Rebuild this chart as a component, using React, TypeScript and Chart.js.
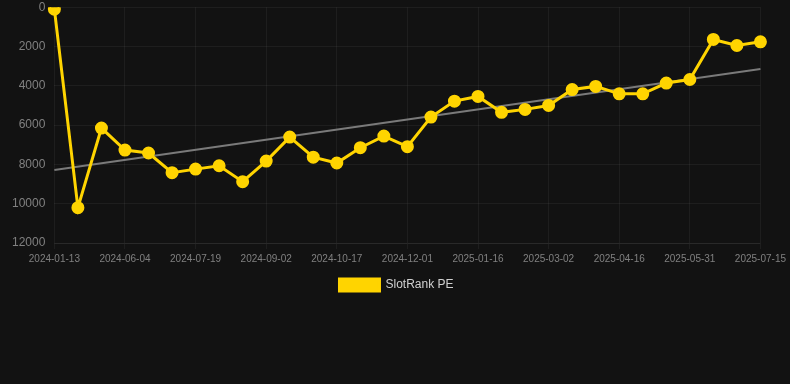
import React, { useEffect, useRef } from "react";
import { Chart, registerables } from "chart.js";

Chart.register(...registerables);

const dates: string[] = [
  "2024-01-13", "2024-05-05", "2024-05-20", "2024-06-04", "2024-06-19", "2024-07-04",
  "2024-07-19", "2024-08-03", "2024-08-18", "2024-09-02", "2024-09-17", "2024-10-02",
  "2024-10-17", "2024-11-01", "2024-11-16", "2024-12-01", "2024-12-16", "2024-12-31",
  "2025-01-16", "2025-01-31", "2025-02-15", "2025-03-02", "2025-03-17", "2025-04-01",
  "2025-04-16", "2025-05-01", "2025-05-16", "2025-05-31", "2025-06-15", "2025-06-30",
  "2025-07-15",
];

const slotRankPE: number[] = [
  100, 10200, 6150, 7270, 7420, 8420, 8240, 8070, 8880, 7830, 6610,
  7630, 7930, 7150, 6560, 7100, 5590, 4780, 4540, 5350, 5200,
  5000, 4190, 4030, 4410, 4410, 3860, 3680, 1640, 1950, 1760,
];

const trendStart = 8290;
const trendEnd = 3150;

const yTicks: number[] = [0, 2000, 4000, 6000, 8000, 10000, 12000];

export default function App() {
  const ref = useRef<HTMLCanvasElement | null>(null);

  useEffect(() => {
    if (!ref.current) return;
    Chart.defaults.font.family = 'Arial, "Liberation Sans", Helvetica, sans-serif';
    const trend: (number | null)[] = dates.map((_, i) =>
      i === 0 ? trendStart : i === dates.length - 1 ? trendEnd : null
    );
    const chart = new Chart(ref.current, {
      type: "line",
      data: {
        labels: dates,
        datasets: [
          {
            label: "SlotRank PE",
            data: slotRankPE,
            borderColor: "#ffd400",
            backgroundColor: "#ffd400",
            borderWidth: 3,
            pointRadius: 5,
            pointHoverRadius: 5,
            pointBackgroundColor: "#ffd400",
            pointBorderColor: "#ffd400",
            tension: 0,
          },
          {
            label: "trend",
            data: trend,
            borderColor: "#7a7a7a",
            backgroundColor: "#7a7a7a",
            borderWidth: 2,
            pointRadius: 0,
            spanGaps: true,
            tension: 0,
          },
        ],
      },
      options: {
        animation: false,
        responsive: false,
        maintainAspectRatio: false,
        layout: { padding: { left: 3, right: 0, top: 0, bottom: 1 } },
        plugins: {
          legend: {
            position: "bottom",
            labels: {
              color: "#d0d0d0",
              font: { size: 12 },
              boxWidth: 40,
              filter: (item) => item.text === "SlotRank PE",
            },
          },
          tooltip: { enabled: false },
        },
        scales: {
          x: {
            grid: { color: "rgba(255,255,255,0.05)", tickLength: 6 },
            border: { color: "rgba(255,255,255,0.05)" },
            ticks: {
              color: "#808080",
              font: { size: 10 },
              padding: 4,
              autoSkip: false,
              maxRotation: 0,
              callback: (_v, i) => (i % 3 === 0 ? dates[i] : null),
            },
          },
          y: {
            reverse: true,
            min: 0,
            max: 12000,
            afterBuildTicks: (axis) => {
              axis.ticks = yTicks.map((v) => ({ value: v }));
            },
            grid: { color: "rgba(255,255,255,0.05)", drawTicks: false },
            border: { display: false },
            ticks: {
              color: "#808080",
              font: { size: 12 },
              padding: 9,
              callback: (v) => String(v),
            },
          },
        },
      },
    });
    return () => chart.destroy();
  }, []);

  return (
    <div style={{ position: "fixed", left: 0, top: 0, width: 790, height: 384, background: "#121212", overflow: "hidden" }}>
      <canvas ref={ref} width={790} height={311} style={{ display: "block", position: "absolute", left: 0, top: -9 }} />
    </div>
  );
}
